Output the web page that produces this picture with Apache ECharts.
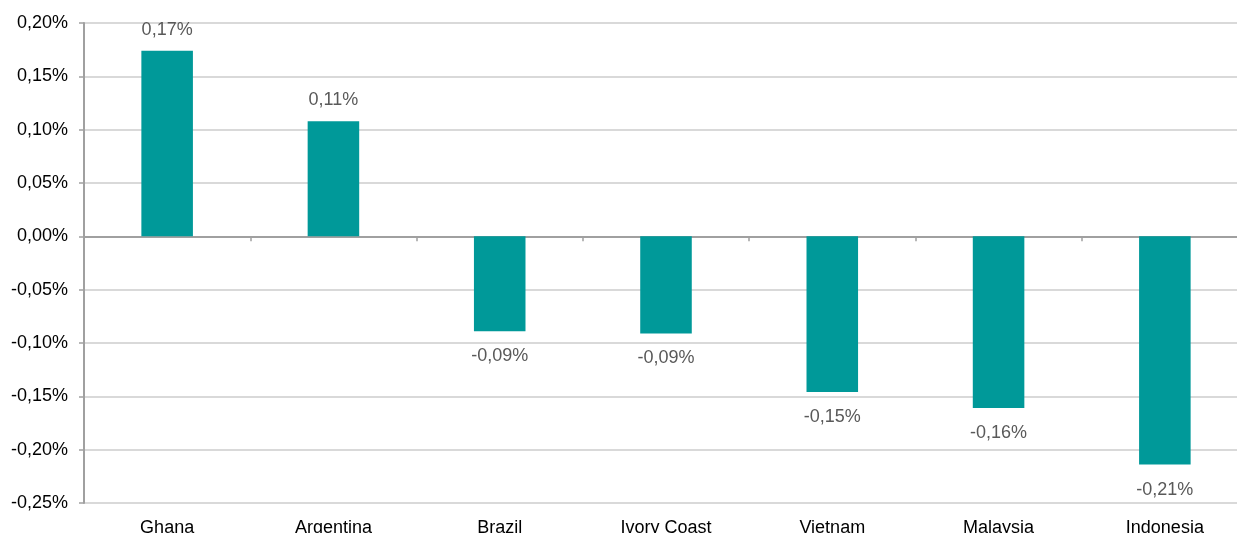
<!DOCTYPE html>
<html>
<head>
<meta charset="utf-8">
<script src="https://cdn.jsdelivr.net/npm/echarts@6/dist/echarts.min.js"></script>
<style>
  html, body { margin: 0; padding: 0; background: #ffffff; overflow: hidden; }
  #chart { width: 1250px; height: 533px; }
</style>
</head>
<body>
<div id="chart"></div>
<script>
// Country contributions, in percent
const countries = ['Ghana', 'Argentina', 'Brazil', 'Ivory Coast', 'Vietnam', 'Malaysia', 'Indonesia'];
const contributions = [0.174, 0.108, -0.089, -0.091, -0.146, -0.161, -0.214];
const yTicks = { min: -0.25, max: 0.20, interval: 0.05 };

const fmtPct = v => v.toFixed(2).replace('.', ',') + '%';
const FONT = '"Liberation Sans", Arial, sans-serif';

const chart = echarts.init(document.getElementById('chart'), null, { renderer: 'canvas' });

chart.setOption({
  animation: false,
  backgroundColor: '#ffffff',
  grid: { left: 84, top: 23, width: 1164, height: 480, containLabel: false, outerBoundsMode: 'none' },
  xAxis: [
    {
      // category names along the bottom edge
      type: 'category',
      data: countries,
      position: 'bottom',
      axisLine: { show: false, onZero: false },
      axisTick: { show: false },
      axisLabel: { color: '#000000', fontSize: 18, fontFamily: FONT, margin: 16 },
      splitLine: { show: false }
    },
    {
      // zero baseline with boundary ticks
      type: 'category',
      data: countries,
      position: 'top',
      axisLine: { show: true, onZero: true, lineStyle: { color: '#a0a0a0', width: 2 } },
      axisTick: { show: true, inside: true, length: 5, alignWithLabel: false, lineStyle: { color: '#a0a0a0', width: 1.5 } },
      axisLabel: { show: false },
      splitLine: { show: false }
    }
  ],
  yAxis: {
    type: 'value',
    min: yTicks.min,
    max: yTicks.max,
    interval: yTicks.interval,
    axisLine: { show: true, onZero: false, lineStyle: { color: '#a0a0a0', width: 2 } },
    axisTick: { show: true, length: 5, lineStyle: { color: '#a0a0a0', width: 1.5 } },
    axisLabel: { color: '#000000', fontSize: 18, fontFamily: FONT, margin: 16, formatter: fmtPct },
    splitLine: { show: true, lineStyle: { color: '#d9d9d9', width: 2 } }
  },
  series: [{
    type: 'bar',
    xAxisIndex: 0,
    barWidth: '31%',
    itemStyle: { color: '#009999' },
    data: contributions.map(v => ({
      value: v,
      label: v >= 0 ? { position: 'top', distance: 12 } : { position: 'bottom', distance: 16 }
    })),
    label: {
      show: true,
      color: '#595959',
      fontSize: 18,
      fontFamily: FONT,
      formatter: p => fmtPct(p.value)
    }
  }]
});
</script>
</body>
</html>
